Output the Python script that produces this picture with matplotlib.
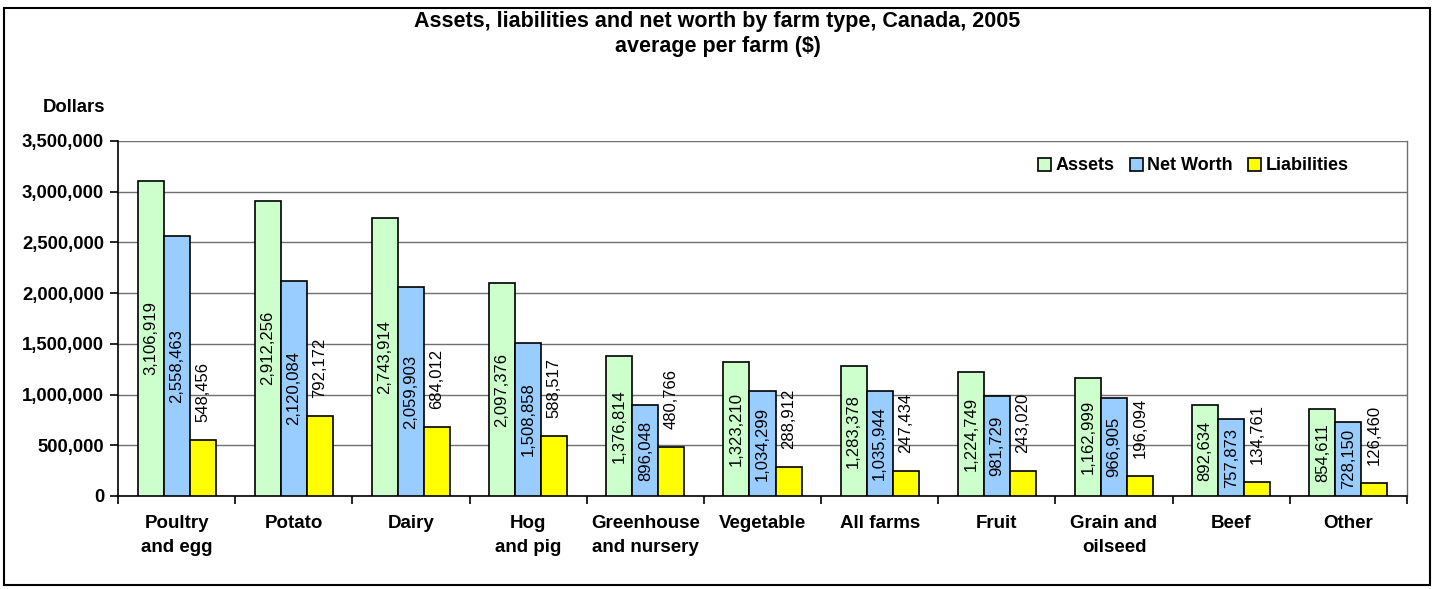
import matplotlib
matplotlib.use("Agg")
import matplotlib.pyplot as plt
import numpy as np
from matplotlib.ticker import FuncFormatter, FixedLocator
from matplotlib.patches import Rectangle

plt.rcParams['font.family'] = ['Liberation Sans', 'DejaVu Sans']

categories = ["Poultry\nand egg", "Potato", "Dairy", "Hog\nand pig",
              "Greenhouse\nand nursery", "Vegetable", "All farms", "Fruit",
              "Grain and\noilseed", "Beef", "Other"]
assets = [3106919, 2912256, 2743914, 2097376, 1376814, 1323210,
          1283378, 1224749, 1162999, 892634, 854611]
net_worth = [2558463, 2120084, 2059903, 1508858, 896048, 1034299,
             1035944, 981729, 966905, 757873, 728150]
liabilities = [548456, 792172, 684012, 588517, 480766, 288912,
               247434, 243020, 196094, 134761, 126460]

series = [("Assets", assets, "#CCFFCC"),
          ("Net Worth", net_worth, "#99CCFF"),
          ("Liabilities", liabilities, "#FFFF00")]

fig = plt.figure(figsize=(14.35, 5.89), dpi=100)
ax = fig.add_axes([118/1435, 1 - 496/589, (1407-118)/1435, (496-141)/589])

# figure border
fig.patches.append(Rectangle((4/1435, 1 - 585/589), 1426/1435, 577/589,
                             transform=fig.transFigure, fill=False,
                             edgecolor="black", linewidth=1.5))

x = np.arange(len(categories))
w = 0.222
for k, (name, vals, col) in enumerate(series):
    pos = x + (k - 1) * w
    bars = ax.bar(pos, vals, width=w, color=col, edgecolor="black",
                  linewidth=1.2, label=name, zorder=3)
    for b, v in zip(bars, vals):
        txt = f"{v:,}"
        if name == "Liabilities":
            # liabilities labels sit above the bar
            ax.annotate(txt, (b.get_x() + b.get_width() / 2, v),
                        xytext=(0, 13), textcoords="offset points",
                        rotation=90, ha="center", va="bottom",
                        fontsize=12, zorder=4)
        else:
            ax.text(b.get_x() + b.get_width() / 2, v / 2, txt,
                    rotation=90, ha="center", va="center",
                    fontsize=12, zorder=4)

ax.set_xlim(-0.5, len(categories) - 0.5)
ax.set_ylim(0, 3500000)
ax.set_yticks(np.arange(0, 3500001, 500000))
ax.yaxis.set_major_formatter(FuncFormatter(lambda v, p: f"{int(v):,}"))
ax.grid(axis="y", color="#707070", linewidth=1.0, zorder=0)

ax.set_xticks(x)
ax.set_xticklabels(categories, fontweight="bold", fontsize=13.5,
                   linespacing=1.5, va="top")
ax.tick_params(axis="x", which="major", length=0, pad=14)
ax.xaxis.set_minor_locator(FixedLocator(np.arange(-0.5, len(categories), 1.0)))
ax.tick_params(axis="x", which="minor", length=6, width=1.2, color="black")
ax.tick_params(axis="y", length=6, width=1.2, labelsize=13.3, pad=4)
for lab in ax.get_yticklabels():
    lab.set_fontweight("bold")

ax.spines["left"].set_linewidth(1.2)
ax.spines["bottom"].set_linewidth(1.2)
ax.spines["top"].set_visible(False)
ax.spines["right"].set_color("#707070")
ax.spines["right"].set_linewidth(1.0)

fig.text(74/1435, 1 - 107/589, "Dollars", ha="center", va="center",
         fontweight="bold", fontsize=13.3)
fig.text(0.5, 1 - 34/589,
         "Assets, liabilities and net worth by farm type, Canada, 2005\naverage per farm ($)",
         ha="center", va="center", fontweight="bold", fontsize=15.5,
         linespacing=1.2)

leg = fig.legend(loc="center right", bbox_to_anchor=(1358/1435, 1 - 166/589),
                 bbox_transform=fig.transFigure, ncol=3, frameon=False,
                 prop={"weight": "bold", "size": 13}, handlelength=0.72,
                 handleheight=0.72, handletextpad=0.25, columnspacing=0.85,
                 borderpad=0)

fig.savefig("out.png", dpi=100)
